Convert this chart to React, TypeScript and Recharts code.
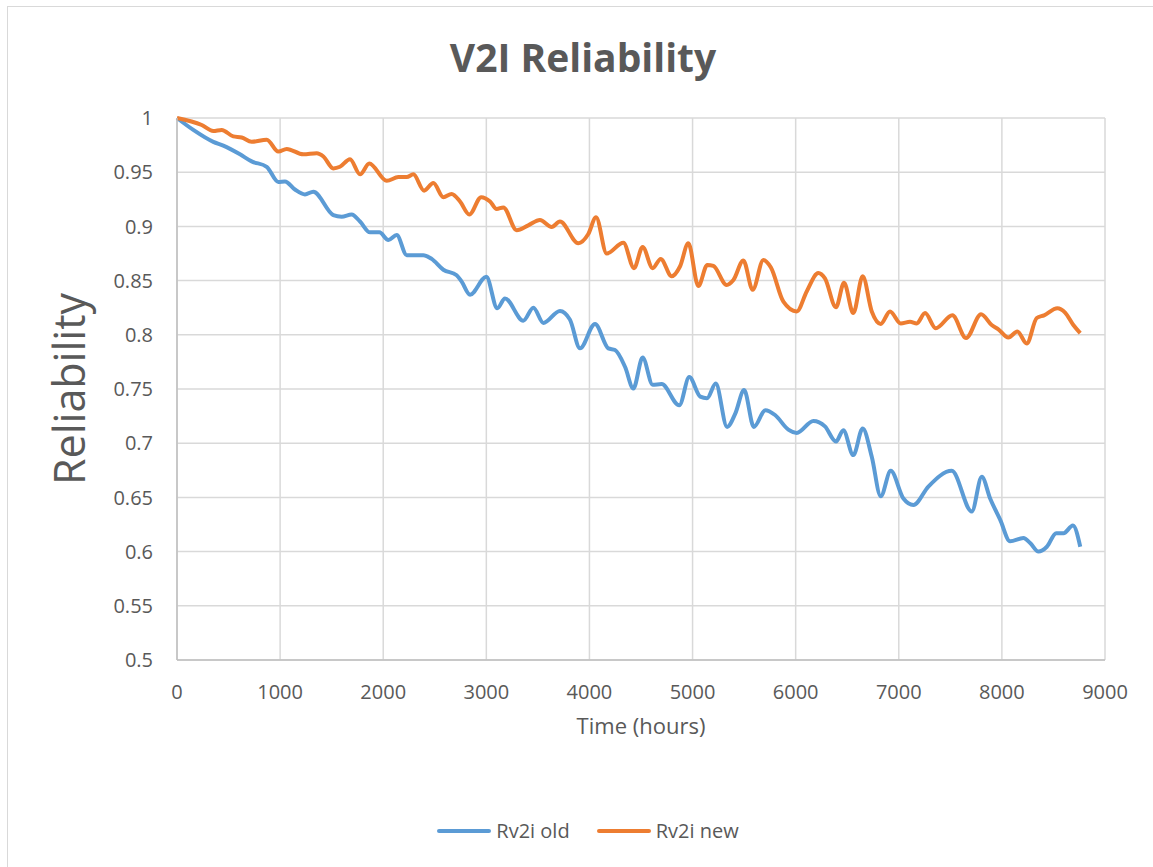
import { LineChart, Line, XAxis, YAxis, CartesianGrid, Label } from 'recharts'

// hours / reliability
const oldHours = [
  0, 158, 352, 449, 611, 724, 870, 983, 1047, 1144, 1241, 1322, 1516, 1597, 1694, 1775, 1872, 1963, 2050, 2131,
  2228, 2389, 2470, 2583, 2712, 2761, 2842, 3000, 3106, 3181, 3359, 3456, 3553, 3714, 3811, 3908, 4054, 4183, 4248,
  4345, 4426, 4516, 4613, 4700, 4871, 4968, 5075, 5140, 5225, 5335, 5415, 5500, 5595, 5706, 5800, 5929, 6010, 6172,
  6284, 6391, 6462, 6559, 6650, 6738, 6825, 6922, 7045, 7142, 7287, 7514, 7708, 7805, 7886, 7983, 8080, 8209, 8274,
  8355, 8436, 8527, 8598, 8689, 8760
]
const oldValues = [
  1.0, 0.989, 0.978, 0.9745, 0.9665, 0.96, 0.955, 0.941, 0.9415, 0.934, 0.9295, 0.932, 0.9105, 0.909, 0.911, 0.9045,
  0.8945, 0.8945, 0.8875, 0.892, 0.8735, 0.8735, 0.87, 0.86, 0.855, 0.849, 0.837, 0.8535, 0.8245, 0.8335, 0.813, 0.825,
  0.811, 0.822, 0.814, 0.7875, 0.81, 0.7875, 0.786, 0.7705, 0.7505, 0.779, 0.754, 0.7545, 0.735, 0.761, 0.743, 0.7415,
  0.755, 0.715, 0.7275, 0.749, 0.715, 0.7305, 0.726, 0.7125, 0.7095, 0.7205, 0.7155, 0.7015, 0.712, 0.689, 0.7135,
  0.6875, 0.651, 0.6745, 0.649, 0.643, 0.66, 0.6745, 0.637, 0.669, 0.649, 0.6295, 0.6095, 0.6125, 0.608, 0.6, 0.6045,
  0.617, 0.617, 0.624, 0.6045
]

const newHours = [
  0, 240, 352, 433, 546, 627, 724, 870, 983, 1064, 1225, 1355, 1420, 1516, 1580, 1678, 1775, 1865, 2034, 2147, 2228,
  2292, 2396, 2486, 2583, 2664, 2745, 2835, 2950, 3036, 3100, 3165, 3294, 3407, 3520, 3634, 3714, 3892, 3989, 4064,
  4167, 4329, 4432, 4516, 4613, 4691, 4797, 4878, 4959, 5056, 5143, 5202, 5331, 5396, 5493, 5583, 5687, 5760, 5881,
  6010, 6107, 6220, 6284, 6391, 6469, 6559, 6650, 6738, 6825, 6915, 7019, 7109, 7174, 7255, 7358, 7520, 7653, 7798,
  7901, 7966, 8063, 8150, 8241, 8338, 8409, 8538, 8613, 8693, 8760
]
const newValues = [
  1.0, 0.9935, 0.988, 0.989, 0.983, 0.982, 0.978, 0.98, 0.969, 0.9715, 0.9665, 0.9675, 0.9645, 0.9535, 0.955, 0.962,
  0.948, 0.958, 0.942, 0.9455, 0.9455, 0.948, 0.933, 0.94, 0.927, 0.93, 0.923, 0.911, 0.927, 0.923, 0.916, 0.9175,
  0.8965, 0.901, 0.906, 0.8995, 0.9045, 0.8845, 0.893, 0.9085, 0.875, 0.885, 0.8615, 0.881, 0.8615, 0.87, 0.854, 0.863,
  0.8845, 0.845, 0.8645, 0.8635, 0.846, 0.8505, 0.8685, 0.8415, 0.869, 0.862, 0.8305, 0.8215, 0.84, 0.857, 0.852,
  0.8255, 0.848, 0.82, 0.854, 0.8215, 0.81, 0.8215, 0.8105, 0.812, 0.8105, 0.82, 0.806, 0.818, 0.797, 0.819, 0.809,
  0.805, 0.7975, 0.803, 0.792, 0.8155, 0.818, 0.8245, 0.8205, 0.809, 0.8015
]

const xTicks = [0, 1000, 2000, 3000, 4000, 5000, 6000, 7000, 8000, 9000]
const yTicks = [0.5, 0.55, 0.6, 0.65, 0.7, 0.75, 0.8, 0.85, 0.9, 0.95, 1]

const oldData = oldHours.map((h, i) => ({ h, r: oldValues[i] }))
const newData = newHours.map((h, i) => ({ h, r: newValues[i] }))

const BLUE = '#5b9bd5'
const ORANGE = '#ed7d31'
const TEXT = '#595959'
const FONT = '"Open Sans", sans-serif'

function LegendBox() {
  const items = [
    { name: 'Rv2i old', color: BLUE },
    { name: 'Rv2i new', color: ORANGE }
  ]
  return (
    <div
      style={{
        position: 'absolute', left: 0, top: 817, width: 1176,
        display: 'flex', justifyContent: 'center', gap: 27, fontFamily: FONT, fontSize: 20, color: TEXT
      }}
    >
      {items.map((it) => (
        <div key={it.name} style={{ display: 'flex', alignItems: 'center' }}>
          <span style={{ display: 'inline-block', width: 54, height: 4, borderRadius: 2, background: it.color, marginRight: 5 }} />
          <span>{it.name}</span>
        </div>
      ))}
    </div>
  )
}

export default function App() {
  return (
    <div style={{ position: 'absolute', left: 0, top: 0, width: 1153, height: 867, overflow: 'hidden', background: '#fff' }}>
      <div
        style={{
          position: 'absolute', left: 7, top: 6, width: 1160, height: 880,
          borderLeft: '1.5px solid #d9d9d9', borderTop: '1.5px solid #d9d9d9'
        }}
      />
      <div
        style={{
          position: 'absolute', left: 0, top: 32, width: 1166, textAlign: 'center',
          fontFamily: FONT, fontWeight: 700, fontSize: 39, color: TEXT, lineHeight: '50px'
        }}
      >
        V2I Reliability
      </div>
      <LineChart width={1153} height={867} margin={{ top: 118, right: 48, left: 0, bottom: 107 }} style={{ position: 'absolute', left: 0, top: 0 }}>
        <CartesianGrid stroke="#d9d9d9" strokeWidth={1.5} horizontalValues={yTicks} verticalValues={xTicks} />
        <XAxis
          dataKey="h"
          type="number"
          domain={[0, 9000]}
          ticks={xTicks}
          allowDuplicatedCategory={false}
          height={100}
          tickSize={0}
          tickMargin={25}
          stroke="#bfbfbf"
          strokeWidth={1.5}
          tick={{ fill: TEXT, fontSize: 20, fontFamily: FONT }}
        >
          <Label value="Time (hours)" position="insideTop" offset={58} fill={TEXT} fontSize={22} fontFamily={FONT} />
        </XAxis>
        <YAxis
          type="number"
          domain={[0.5, 1]}
          ticks={yTicks}
          width={177}
          tickSize={0}
          tickMargin={24}
          stroke="#bfbfbf"
          strokeWidth={1.5}
          tick={{ fill: TEXT, fontSize: 20, fontFamily: FONT }}
        >
          <Label value="Reliability" angle={-90} position="insideLeft" offset={70} fill={TEXT} fontSize={43} fontFamily={FONT} style={{ textAnchor: 'middle' }} />
        </YAxis>
        <Line data={oldData} dataKey="r" name="Rv2i old" type="monotone" stroke={BLUE} strokeWidth={4} dot={false} isAnimationActive={false} />
        <Line data={newData} dataKey="r" name="Rv2i new" type="monotone" stroke={ORANGE} strokeWidth={4} dot={false} isAnimationActive={false} />
      </LineChart>
      <LegendBox />
    </div>
  )
}
